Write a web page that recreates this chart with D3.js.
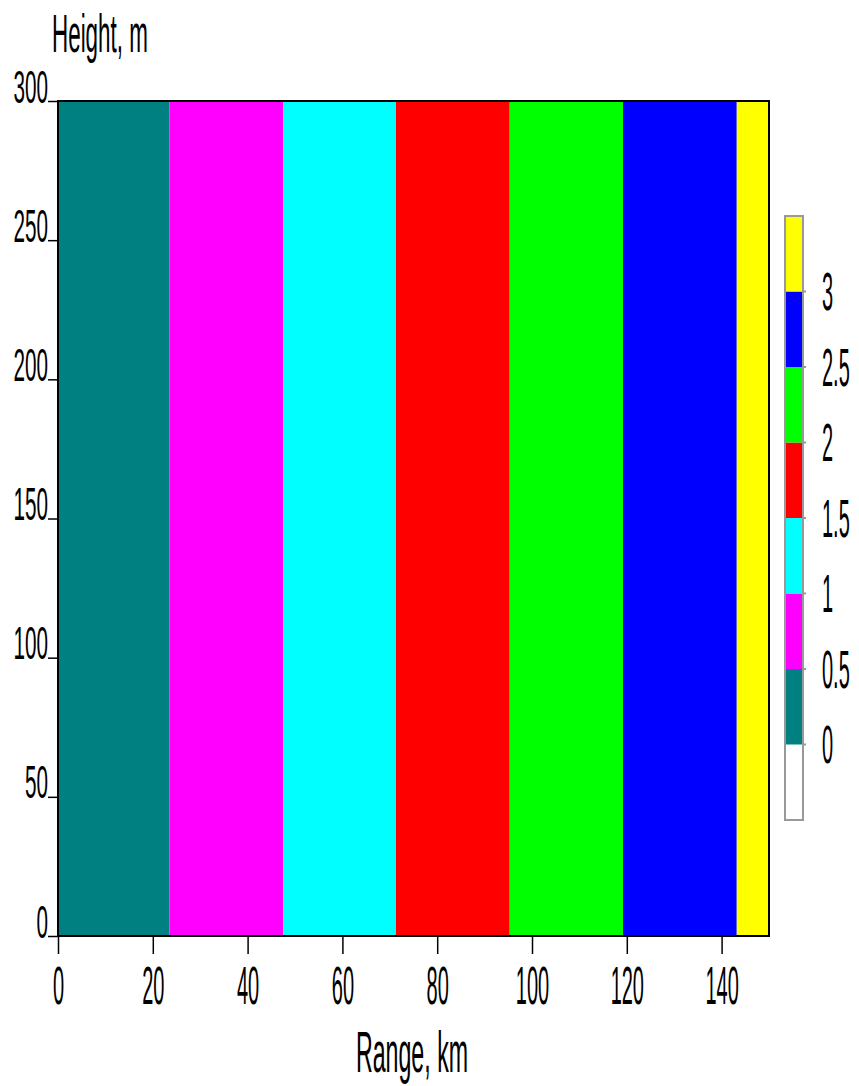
<!DOCTYPE html>
<html>
<head>
<meta charset="utf-8">
<script src="https://cdn.jsdelivr.net/npm/d3@7"></script>
<style>
  body { margin: 0; background: #fff; }
  svg text { font-family: "Liberation Sans", Arial, sans-serif; fill: #000; }
</style>
</head>
<body>
<div id="chart"></div>
<script>
// range bands (km) and the level of each band
var bandEdges = [0, 23.5, 47.5, 71.3, 95.3, 119.2, 143.2, 150];
var bandLevels = [0.25, 0.75, 1.25, 1.75, 2.25, 2.75, 3.25];

// colour legend
var legendThresholds = [0, 0.5, 1, 1.5, 2, 2.5, 3];
var legendColors = ["#ffffff", "#008080", "#ff00ff", "#00ffff", "#ff0000", "#00ff00", "#0000ff", "#ffff00"];
var legendLabels = ["0", "0.5", "1", "1.5", "2", "2.5", "3"];

var xTicks = [0, 20, 40, 60, 80, 100, 120, 140];
var yTicks = [0, 50, 100, 150, 200, 250, 300];

var W = 859, H = 1086;
var margin = { top: 101, right: 90, bottom: 150, left: 58 };
var width = 769 - margin.left, height = 936 - margin.top;

var svg = d3.select("#chart").append("svg")
    .attr("width", W)
    .attr("height", H);

var g = svg.append("g")
    .attr("transform", "translate(" + margin.left + "," + margin.top + ")");

var x = d3.scaleLinear().domain([0, 150]).range([0, width]);
var y = d3.scaleLinear().domain([0, 300]).range([height, 0]);
var color = d3.scaleThreshold().domain(legendThresholds).range(legendColors);

// squeeze text horizontally, the original font is very narrow
function squeeze(sel, sx) {
    sel.attr("transform", "scale(" + sx + ",1)");
}

// bands
var bands = d3.range(bandLevels.length).map(function (i) {
    return { x0: bandEdges[i], x1: bandEdges[i + 1], v: bandLevels[i] };
});
g.selectAll("rect.band")
    .data(bands)
    .enter().append("rect")
    .attr("class", "band")
    .attr("x", function (d) { return x(d.x0); })
    .attr("width", function (d) { return x(d.x1) - x(d.x0); })
    .attr("y", y(300))
    .attr("height", y(0) - y(300))
    .attr("fill", function (d) { return color(d.v); });

// frame
g.append("rect")
    .attr("x", 0).attr("y", 0)
    .attr("width", width).attr("height", height)
    .attr("fill", "none")
    .attr("stroke", "#000")
    .attr("stroke-width", 2);

// x axis
var xAxis = g.append("g")
    .attr("transform", "translate(0," + height + ")")
    .call(d3.axisBottom(x).tickValues(xTicks).tickSize(18).tickSizeOuter(0));
xAxis.select(".domain").remove();
xAxis.selectAll(".tick line").attr("stroke", "#000").attr("stroke-width", 1.5);
xAxis.selectAll(".tick text")
    .attr("y", 68).attr("dy", 0)
    .style("font-size", "54px")
    .call(squeeze, 0.37);

// y axis
var yAxis = g.append("g")
    .call(d3.axisLeft(y).tickValues(yTicks).tickSize(10).tickSizeOuter(0));
yAxis.select(".domain").remove();
yAxis.selectAll(".tick line").attr("stroke", "#000").attr("stroke-width", 1.5);
yAxis.selectAll(".tick text")
    .attr("x", -10 / 0.45).attr("y", 1).attr("dy", 0)
    .attr("text-anchor", "end")
    .style("font-size", "46px")
    .call(squeeze, 0.45);

// axis titles
svg.append("text")
    .attr("x", 52 / 0.415).attr("y", 52)
    .style("font-size", "54px")
    .text("Height, m")
    .call(squeeze, 0.415);

svg.append("text")
    .attr("x", 412 / 0.4).attr("y", 1072)
    .attr("text-anchor", "middle")
    .style("font-size", "58px")
    .text("Range, km")
    .call(squeeze, 0.4);

// legend
var lg = svg.append("g").attr("transform", "translate(785,0)");
var ly = d3.scaleLinear().domain([-0.5, 3.5]).range([820, 216]);
var legendCells = legendColors.map(function (c, i) {
    return { c: c, v0: i - 1 === -1 ? -0.5 : legendThresholds[i - 1], v1: i < legendThresholds.length ? legendThresholds[i] : 3.5 };
});
lg.selectAll("rect.cell")
    .data(legendCells)
    .enter().append("rect")
    .attr("class", "cell")
    .attr("x", 0).attr("width", 18)
    .attr("y", function (d) { return ly(d.v1); })
    .attr("height", function (d) { return ly(d.v0) - ly(d.v1); })
    .attr("fill", function (d) { return d.c; });
lg.append("rect")
    .attr("x", 0).attr("y", ly(3.5))
    .attr("width", 18).attr("height", ly(-0.5) - ly(3.5))
    .attr("fill", "none")
    .attr("stroke", "#999")
    .attr("stroke-width", 2);
lg.selectAll("line.lt")
    .data(legendThresholds)
    .enter().append("line")
    .attr("class", "lt")
    .attr("x1", 18).attr("x2", 21)
    .attr("y1", function (d) { return ly(d); })
    .attr("y2", function (d) { return ly(d); })
    .attr("stroke", "#999")
    .attr("stroke-width", 2);
lg.selectAll("text.ll")
    .data(legendThresholds)
    .enter().append("text")
    .attr("class", "ll")
    .attr("x", 37 / 0.37)
    .attr("y", function (d) { return ly(d) + 19; })
    .style("font-size", "54px")
    .text(function (d, i) { return legendLabels[i]; })
    .call(squeeze, 0.37);
</script>
</body>
</html>
